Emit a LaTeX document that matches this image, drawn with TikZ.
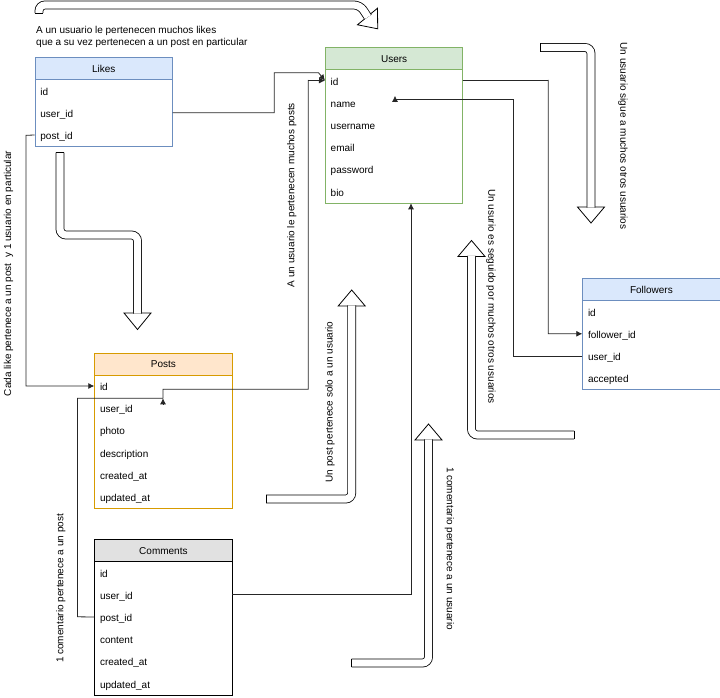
\documentclass[tikz,border=0pt]{standalone}
\usepackage{fontspec}
\setmainfont{Liberation Sans}
\usetikzlibrary{arrows.meta,calc}
\definecolor{likesfill}{HTML}{DAE8FC}
\definecolor{likesstroke}{HTML}{6C8EBF}
\definecolor{usersfill}{HTML}{D5E8D4}
\definecolor{usersstroke}{HTML}{82B366}
\definecolor{postsfill}{HTML}{FFE6CC}
\definecolor{postsstroke}{HTML}{D79B00}
\definecolor{commfill}{HTML}{E1E1E1}
\newcommand\erdfont{\fontsize{10}{12.4}\selectfont}
\newcommand\erdrows[4]{%
  \foreach \t [count=\i] in {#4} {
    \node[erdrow] (#1-\i) at (#2,{#3+22.2*(\i-1)}) {\t};
  }%
}
\tikzset{
  tbl/.style={draw, fill=white, minimum width=137.4pt, inner sep=0pt, line width=0.8pt, anchor=north west},
  hdr/.style={draw, minimum width=137.4pt, minimum height=22pt, inner sep=0pt, line width=0.8pt, anchor=north west, font=\erdfont},
  erdrow/.style={anchor=north west, minimum height=22.2pt, inner xsep=5.5pt, inner ysep=0pt, text width=126.4pt, text height=9pt, text depth=0pt, align=left, font=\erdfont},
  conn/.style={draw=black!85, line width=0.8pt},
  arr/.style={-{Latex[length=6pt,width=6pt]}},
  flexband/.style={draw=black, double=white, double distance=7.2pt, line width=0.8pt, rounded corners=6pt},
  flexhead/.style={draw=black, fill=white, line width=0.8pt, line join=miter},
  flexcap/.style={draw=black, line width=0.8pt},
  lbl/.style={inner sep=0pt, font=\erdfont},
}
\begin{document}
\begin{tikzpicture}[x=1pt,y=-1pt]
\useasboundingbox (0,0) rectangle (720,698);

% ---------- tables ----------
% Likes
\node[tbl, draw=likesstroke, minimum height=88.6pt] (likes) at (34.7,57.3) {};
\node[hdr, fill=likesfill, draw=likesstroke] (likes-h) at (34.7,57.3) {Likes};
\erdrows{likes}{34.7}{79.3}{id,user\_id,post\_id}

% Users
\node[tbl, draw=usersstroke, minimum height=155.2pt] (users) at (325,47.3) {};
\node[hdr, fill=usersfill, draw=usersstroke] (users-h) at (325,47.3) {Users};
\erdrows{users}{325}{69.3}{id,name,username,email,password,bio}

% Followers
\node[tbl, draw=likesstroke, minimum height=110.8pt] (followers) at (582.3,278.3) {};
\node[hdr, fill=likesfill, draw=likesstroke] (followers-h) at (582.3,278.3) {Followers};
\erdrows{followers}{582.3}{300.3}{id,follower\_id,user\_id,accepted}

% Posts
\node[tbl, draw=postsstroke, minimum height=155.2pt] (posts) at (94.3,352.7) {};
\node[hdr, fill=postsfill, draw=postsstroke] (posts-h) at (94.3,352.7) {Posts};
\erdrows{posts}{94.3}{374.7}{id,user\_id,photo,description,created\_at,updated\_at}

% Comments
\node[tbl, draw=black, minimum height=155.2pt] (comments) at (94.3,539.3) {};
\node[hdr, fill=commfill, draw=black] (comments-h) at (94.3,539.3) {Comments};
\erdrows{comments}{94.3}{561.3}{id,user\_id,post\_id,content,created\_at,updated\_at}

% ---------- connectors ----------
\coordinate (postjoint) at (163,398.3);
\coordinate (userjoint) at (395,99.3);

% Likes.user_id -> Users.id
\draw[conn, arr] (likes-2.east) -| (274.3,72.7) -- (318.5,72.7) -- (users-1.west);
% Posts -> Users.id
\draw[conn, arr] (postjoint) -- (163,389.3) -- (308.3,389.3) -- (308.3,80.4) -- (users-1.west);
% Likes.post_id -> Posts.id
\draw[conn, arr] (likes-3.west) -- (26,135.3) |- (posts-1.west);
% Comments.post_id -> Posts
\draw[conn] (comments-3.west) -- (77.5,616.8) -- (77.5,398.3) -- (postjoint);
\draw[conn, arr] ($(postjoint)+(0,6.5)$) -- (postjoint);
% Comments.user_id -> Users bottom
\draw[conn, arr] (comments-2.east) -| ($(users.south west)+(86,0)$);
% Users.id -> Followers.follower_id
\draw[conn, arr] (users-1.east) -- (548.3,80.4) |- (followers-2.west);
% Followers.user_id -> Users
\draw[conn] (followers-3.west) -| (513.3,99.3) -- (userjoint);
\draw[conn, arr] ($(userjoint)+(0,3)$) -- ($(userjoint)+(0,-3.5)$);

% ---------- big hollow arrows ----------
% top arrow
\draw[flexhead] (357.5,24.8) -- (377.5,8.2) -- (377.7,28.8) -- cycle;
\draw[flexband] (39,13) -- (39,5) -- (360,5) -- (367.9,17.0);
\draw[flexcap] (34.6,13) -- (43.4,13);
% Likes -> Posts arrow
\draw[flexhead] (124,313) -- (151,313) -- (137.5,329.5) -- cycle;
\draw[flexband] (60,152.7) -- (60,235) -- (137.5,235) -- (137.5,313.6);
\draw[flexcap] (55.6,152.7) -- (64.4,152.7);
% sigue arrow
\draw[flexhead] (577.5,207) -- (604.5,207) -- (591,223) -- cycle;
\draw[flexband] (540,47.5) -- (591,47.5) -- (591,207.6);
\draw[flexcap] (540,43.1) -- (540,51.9);
% seguido arrow
\draw[flexhead] (458,256.5) -- (485,256.5) -- (471.5,240.5) -- cycle;
\draw[flexband] (574,435) -- (471.5,435) -- (471.5,255.9);
\draw[flexcap] (574,430.6) -- (574,439.4);
% post pertenece arrow
\draw[flexhead] (338.2,306) -- (365.2,306) -- (351.7,290) -- cycle;
\draw[flexband] (266,499) -- (351.7,499) -- (351.7,305.4);
\draw[flexcap] (266,494.6) -- (266,503.4);
% comentario usuario arrow
\draw[flexhead] (415,440) -- (442,440) -- (428.5,424) -- cycle;
\draw[flexband] (351.7,663) -- (428.5,663) -- (428.5,439.4);
\draw[flexcap] (351.7,658.6) -- (351.7,667.4);

% ---------- labels ----------
\node[lbl, anchor=west, align=left] (l1) at (36,37) {A un usuario le pertenecen muchos likes\\que a su vez pertenecen a un post en particular};
\node[lbl, rotate=90] (l2) at (291.7,195) {A un usuario le pertenecen muchos posts};
\node[lbl, rotate=90] (l3) at (8.5,273.5) {Cada like pertenece a un post~ y 1 usuario en particular};
\node[lbl, rotate=90] (l4) at (330,402) {Un post pertenece solo a un usuario};
\node[lbl, rotate=90] (l5) at (60.7,588.5) {1 comentario pertenece a un post};
\node[lbl, rotate=-90] (l6) at (623,136) {Un usuario sigue a muchos otros usuarios};
\node[lbl, rotate=-90] (l7) at (491,296.5) {Un usurio es seguido por muchos otros usuarios};
\node[lbl, rotate=-90] (l8) at (449.5,548.5) {1 comentario pertenece a un usuario};
\end{tikzpicture}
\end{document}
